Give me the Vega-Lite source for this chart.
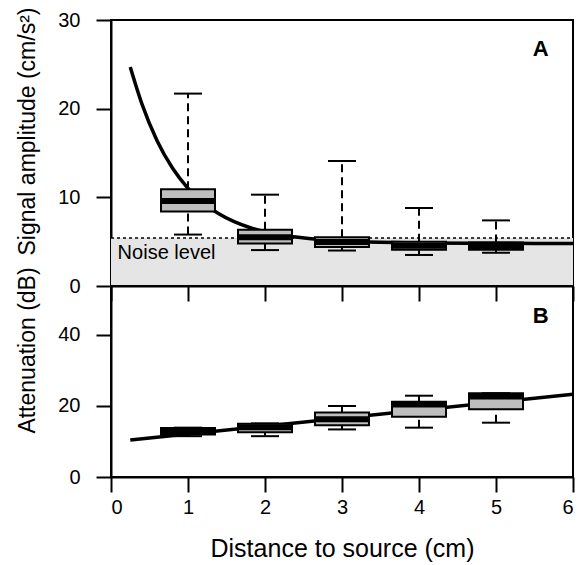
{
  "$schema": "https://vega.github.io/schema/vega-lite/v6.json",
  "padding": {"left": 14, "top": 6, "right": -4, "bottom": 0},
  "bounds": "flush",
  "spacing": 0,
  "config": {
    "font": "Liberation Sans",
    "view": {"stroke": "black", "strokeWidth": 2},
    "axis": {
      "labelFont": "Liberation Sans", "titleFont": "Liberation Sans",
      "domainColor": "black", "domainWidth": 2,
      "tickColor": "black", "tickWidth": 2, "tickSize": 15,
      "labelFontSize": 20, "labelColor": "black",
      "titleFontSize": 23, "titleFontWeight": "normal", "titleColor": "black",
      "grid": false, "zindex": 1
    },
    "text": {"font": "Liberation Sans"}
  },
  "datasets": {
    "noise": [{"start": 0, "end": 6, "floor": 0, "level": 5.4}],
    "boxesA": [
      {"distance": 1, "lo": 5.8, "q1": 8.4, "med": 9.6, "q3": 10.9, "hi": 21.7},
      {"distance": 2, "lo": 4.05, "q1": 4.8, "med": 5.5, "q3": 6.35, "hi": 10.3},
      {"distance": 3, "lo": 4.0, "q1": 4.4, "med": 4.95, "q3": 5.5, "hi": 14.1},
      {"distance": 4, "lo": 3.5, "q1": 4.1, "med": 4.55, "q3": 5.0, "hi": 8.8},
      {"distance": 5, "lo": 3.75, "q1": 4.1, "med": 4.5, "q3": 4.9, "hi": 7.4}
    ],
    "curveA": [
      {"distance": 0.25, "amp": 24.69},
      {"distance": 0.4, "amp": 20.56},
      {"distance": 0.6, "amp": 16.36},
      {"distance": 0.8, "amp": 13.28},
      {"distance": 1.0, "amp": 11.02},
      {"distance": 1.2, "amp": 9.36},
      {"distance": 1.4, "amp": 8.15},
      {"distance": 1.6, "amp": 7.25},
      {"distance": 1.8, "amp": 6.6},
      {"distance": 2.0, "amp": 6.12},
      {"distance": 2.3, "amp": 5.63},
      {"distance": 2.6, "amp": 5.32},
      {"distance": 3.0, "amp": 5.08},
      {"distance": 3.5, "amp": 4.93},
      {"distance": 4.0, "amp": 4.86},
      {"distance": 5.0, "amp": 4.81},
      {"distance": 6.0, "amp": 4.8}
    ],
    "boxesB": [
      {"distance": 1, "lo": 11.5, "q1": 12.0, "med": 12.9, "q3": 13.8, "hi": 13.9},
      {"distance": 2, "lo": 11.5, "q1": 12.6, "med": 14.0, "q3": 15.0, "hi": 15.1},
      {"distance": 3, "lo": 13.4, "q1": 14.6, "med": 16.3, "q3": 18.2, "hi": 20.0},
      {"distance": 4, "lo": 13.9, "q1": 17.0, "med": 20.4, "q3": 21.2, "hi": 22.9},
      {"distance": 5, "lo": 15.3, "q1": 19.1, "med": 22.7, "q3": 23.6, "hi": 23.6}
    ],
    "lineB": [
      {"distance": 0.25, "att": 10.4},
      {"distance": 6.0, "att": 23.3}
    ],
    "labelsA": [
      {"distance": 0.086, "value": 3.0, "label": "Noise level", "kind": "normal"},
      {"distance": 5.58, "value": 25.9, "label": "A", "kind": "bold"}
    ],
    "labelsB": [
      {"distance": 5.58, "value": 43.5, "label": "B", "kind": "bold"}
    ]
  },
  "vconcat": [
    {
      "width": 462,
      "height": 266,
      "layer": [
        {
          "data": {"name": "noise"},
          "mark": {"type": "rect", "fill": "#e5e5e5"},
          "encoding": {
            "x": {"field": "start", "type": "quantitative",
                  "scale": {"domain": [0, 6], "nice": false, "zero": false, "padding": 0},
                  "axis": {"labels": false, "title": null, "values": [0, 1, 2, 3, 4, 5, 6]}},
            "x2": {"field": "end"},
            "y": {"field": "floor", "type": "quantitative",
                  "scale": {"domain": [0, 30], "nice": false, "padding": 0},
                  "axis": {"values": [0, 10, 20, 30], "title": "Signal amplitude (cm/s²)",
                           "labelPadding": 16, "titleX": -77, "titleY": 111, "titleBaseline": "alphabetic"}},
            "y2": {"field": "level"}
          }
        },
        {
          "data": {"name": "noise"},
          "mark": {"type": "rule", "color": "black", "strokeWidth": 1.5, "strokeDash": [3, 3]},
          "encoding": {
            "x": {"field": "start", "type": "quantitative"},
            "x2": {"field": "end"},
            "y": {"field": "level", "type": "quantitative"}
          }
        },
        {
          "data": {"name": "curveA"},
          "mark": {"type": "line", "color": "black", "strokeWidth": 3.5, "interpolate": "monotone"},
          "encoding": {
            "x": {"field": "distance", "type": "quantitative"},
            "y": {"field": "amp", "type": "quantitative"}
          }
        },
        {
          "data": {"name": "boxesA"},
          "mark": {"type": "rule", "color": "black", "strokeWidth": 2, "strokeDash": [8, 5]},
          "encoding": {
            "x": {"field": "distance", "type": "quantitative"},
            "y": {"field": "q3", "type": "quantitative"},
            "y2": {"field": "hi"}
          }
        },
        {
          "data": {"name": "boxesA"},
          "mark": {"type": "rule", "color": "black", "strokeWidth": 2, "strokeDash": [8, 5]},
          "encoding": {
            "x": {"field": "distance", "type": "quantitative"},
            "y": {"field": "lo", "type": "quantitative"},
            "y2": {"field": "q1"}
          }
        },
        {
          "data": {"name": "boxesA"},
          "mark": {"type": "tick", "orient": "horizontal", "color": "black", "size": 28, "thickness": 2, "opacity": 1},
          "encoding": {
            "x": {"field": "distance", "type": "quantitative"},
            "y": {"field": "hi", "type": "quantitative"}
          }
        },
        {
          "data": {"name": "boxesA"},
          "mark": {"type": "tick", "orient": "horizontal", "color": "black", "size": 28, "thickness": 2, "opacity": 1},
          "encoding": {
            "x": {"field": "distance", "type": "quantitative"},
            "y": {"field": "lo", "type": "quantitative"}
          }
        },
        {
          "data": {"name": "boxesA"},
          "mark": {"type": "bar", "fill": "#bebebe", "stroke": "black", "strokeWidth": 2, "size": 54},
          "encoding": {
            "x": {"field": "distance", "type": "quantitative"},
            "y": {"field": "q1", "type": "quantitative"},
            "y2": {"field": "q3"}
          }
        },
        {
          "data": {"name": "boxesA"},
          "mark": {"type": "tick", "orient": "horizontal", "color": "black", "size": 54, "thickness": 6, "opacity": 1},
          "encoding": {
            "x": {"field": "distance", "type": "quantitative"},
            "y": {"field": "med", "type": "quantitative"}
          }
        },
        {
          "data": {"name": "labelsA"},
          "transform": [{"filter": "datum.kind === 'normal'"}],
          "mark": {"type": "text", "align": "left", "baseline": "alphabetic", "fontSize": 20, "color": "black"},
          "encoding": {
            "x": {"field": "distance", "type": "quantitative"},
            "y": {"field": "value", "type": "quantitative"},
            "text": {"field": "label"}
          }
        },
        {
          "data": {"name": "labelsA"},
          "transform": [{"filter": "datum.kind === 'bold'"}],
          "mark": {"type": "text", "align": "center", "baseline": "alphabetic", "fontSize": 22, "fontWeight": "bold", "color": "black"},
          "encoding": {
            "x": {"field": "distance", "type": "quantitative"},
            "y": {"field": "value", "type": "quantitative"},
            "text": {"field": "label"}
          }
        }
      ]
    },
    {
      "width": 462,
      "height": 191,
      "layer": [
        {
          "data": {"name": "lineB"},
          "mark": {"type": "line", "color": "black", "strokeWidth": 3.5},
          "encoding": {
            "x": {"field": "distance", "type": "quantitative",
                  "scale": {"domain": [0, 6], "nice": false, "zero": false, "padding": 0},
                  "axis": {"values": [0, 1, 2, 3, 4, 5, 6], "format": "d", "title": "Distance to source (cm)",
                           "labelPadding": 5, "titleFontSize": 25, "titleY": 79, "titleBaseline": "alphabetic"}},
            "y": {"field": "att", "type": "quantitative",
                  "scale": {"domain": [0, 53.8], "nice": false, "padding": 0},
                  "axis": {"values": [0, 20, 40], "title": "Attenuation (dB)",
                           "labelPadding": 16, "titleX": -77, "titleY": 64, "titleBaseline": "alphabetic"}}
          }
        },
        {
          "data": {"name": "boxesB"},
          "mark": {"type": "rule", "color": "black", "strokeWidth": 2, "strokeDash": [8, 5]},
          "encoding": {
            "x": {"field": "distance", "type": "quantitative"},
            "y": {"field": "q3", "type": "quantitative"},
            "y2": {"field": "hi"}
          }
        },
        {
          "data": {"name": "boxesB"},
          "mark": {"type": "rule", "color": "black", "strokeWidth": 2, "strokeDash": [8, 5]},
          "encoding": {
            "x": {"field": "distance", "type": "quantitative"},
            "y": {"field": "lo", "type": "quantitative"},
            "y2": {"field": "q1"}
          }
        },
        {
          "data": {"name": "boxesB"},
          "mark": {"type": "tick", "orient": "horizontal", "color": "black", "size": 28, "thickness": 2, "opacity": 1},
          "encoding": {
            "x": {"field": "distance", "type": "quantitative"},
            "y": {"field": "hi", "type": "quantitative"}
          }
        },
        {
          "data": {"name": "boxesB"},
          "mark": {"type": "tick", "orient": "horizontal", "color": "black", "size": 28, "thickness": 2, "opacity": 1},
          "encoding": {
            "x": {"field": "distance", "type": "quantitative"},
            "y": {"field": "lo", "type": "quantitative"}
          }
        },
        {
          "data": {"name": "boxesB"},
          "mark": {"type": "bar", "fill": "#bebebe", "stroke": "black", "strokeWidth": 2, "size": 54},
          "encoding": {
            "x": {"field": "distance", "type": "quantitative"},
            "y": {"field": "q1", "type": "quantitative"},
            "y2": {"field": "q3"}
          }
        },
        {
          "data": {"name": "boxesB"},
          "mark": {"type": "tick", "orient": "horizontal", "color": "black", "size": 54, "thickness": 6, "opacity": 1},
          "encoding": {
            "x": {"field": "distance", "type": "quantitative"},
            "y": {"field": "med", "type": "quantitative"}
          }
        },
        {
          "data": {"name": "labelsB"},
          "mark": {"type": "text", "align": "center", "baseline": "alphabetic", "fontSize": 22, "fontWeight": "bold", "color": "black"},
          "encoding": {
            "x": {"field": "distance", "type": "quantitative"},
            "y": {"field": "value", "type": "quantitative"},
            "text": {"field": "label"}
          }
        }
      ]
    }
  ]
}
